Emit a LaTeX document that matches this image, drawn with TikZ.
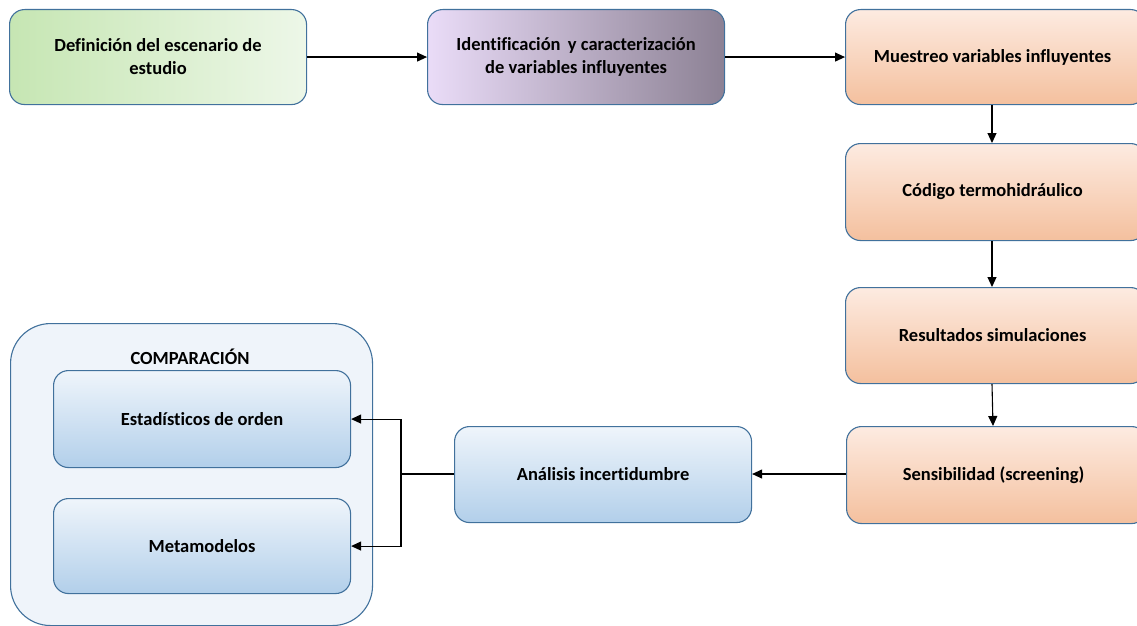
\documentclass[tikz,border=0pt]{standalone}
\usepackage{fontspec}
\setmainfont{Carlito}[Ligatures=NoCommon]
\usetikzlibrary{arrows.meta}
\definecolor{bordc}{HTML}{41719C}
\definecolor{grA}{HTML}{C6E6B3}
\definecolor{grB}{HTML}{EDF7E8}
\definecolor{puA}{HTML}{EADCF8}
\definecolor{puB}{HTML}{8C8194}
\definecolor{orA}{HTML}{FDEBE1}
\definecolor{orB}{HTML}{F4C09E}
\definecolor{blA}{HTML}{EFF5FB}
\definecolor{blB}{HTML}{B2CFEA}
\definecolor{outc}{HTML}{EFF4FA}
\tikzset{
  box/.style={draw=bordc, line width=1.1pt, rounded corners=15pt, align=center, font=\bfseries\fontsize{18.5}{23}\selectfont, inner sep=0pt},
  greenbox/.style={box, left color=grA, right color=grB},
  purplebox/.style={box, shading=axis, shading angle=-75, left color=puA, right color=puB},
  orangebox/.style={box, top color=orA, bottom color=orB},
  bluebox/.style={box, top color=blA, bottom color=blB},
  arr/.style={-{Triangle[length=10pt,width=9pt]}, line width=1.1pt},
  ln/.style={line width=1.1pt}
}
\begin{document}
\begin{tikzpicture}[x=1pt,y=-1pt]
\useasboundingbox (0,0) rectangle (1137,626);
\newcommand{\mybox}[6]{\node[#1, minimum width=#4pt, minimum height=#5pt, anchor=north west] (#2) at #3 {#6};}
\mybox{greenbox}{def}{(9,9)}{297}{95}{Definición del escenario de\\estudio}
\mybox{purplebox}{ide}{(427,9)}{297}{95}{Identificación\, y caracterización\\de variables influyentes}
\mybox{orangebox}{mue}{(845,9)}{300}{95}{Muestreo variables influyentes\hspace*{6pt}}
\mybox{orangebox}{cod}{(845,143)}{300}{97}{Código termohidráulico\hspace*{6pt}}
\mybox{orangebox}{res}{(845,287)}{300}{96}{Resultados simulaciones\hspace*{6pt}}
\mybox{orangebox}{sen}{(846,426)}{300}{97}{Sensibilidad (screening)\hspace*{6pt}}
\mybox{bluebox}{ana}{(454,426)}{297}{96}{Análisis incertidumbre}
\node[draw=bordc, line width=1.1pt, rounded corners=40pt, fill=outc, minimum width=362pt, minimum height=302pt, anchor=north west] (cmp) at (10,323) {};
\node[font=\bfseries\fontsize{18.5}{23}\selectfont] (cmpl) at (190,357) {COMPARACIÓN};
\mybox{bluebox}{est}{(53,370)}{297}{97}{Estadísticos de orden}
\mybox{bluebox}{met}{(53,498)}{297}{95}{Metamodelos}
% connectors
\draw[arr] (def.east) -- (ide.west);
\draw[arr] (ide.east) -- (mue.west);
\draw[arr] (mue.south -| 992,0) -- (cod.north -| 992,0);
\draw[arr] (cod.south -| 992,0) -- (res.north -| 992,0);
\draw[arr] (res.south -| 992,0) -- (sen.north -| 993,0);
\coordinate (j) at (401,474);
\draw[arr] (sen.west |- j) -- (ana.east |- j);
\draw[ln] (ana.west |- j) -- (j);
\draw[arr] (j) |- (est.east);
\draw[arr] (j) |- (met.east);
\end{tikzpicture}
\end{document}
